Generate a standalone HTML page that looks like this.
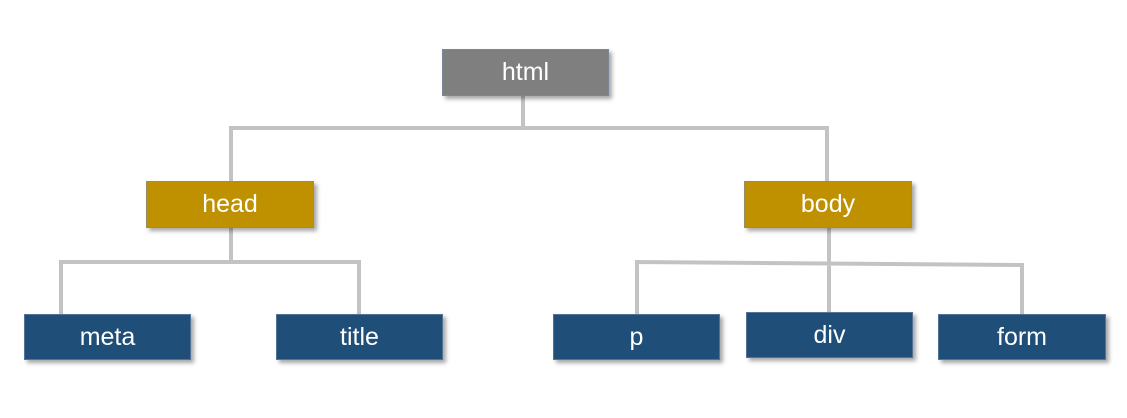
<!DOCTYPE html>
<html><head><style>
body{margin:0;background:#fff;width:1127px;height:418px;overflow:hidden;position:relative;font-family:"Liberation Sans",sans-serif}
.b{position:absolute;color:#fff;font-size:25px;display:flex;align-items:center;justify-content:center;box-shadow:3px 3px 4px rgba(0,0,0,.35);box-sizing:border-box;border:1px solid rgba(120,140,170,.6)}
.g{background:#7f7f7f}.y{background:#bf9000}.n{background:#1f4e79}
svg{position:absolute;left:0;top:0}
</style></head><body>
<svg width="1127" height="418"><g stroke="#c3c3c3" stroke-width="4" fill="none">
<path d="M523 96V128M231 181V128H827V181"/>
<path d="M231 228V262M61 314V262H359V314"/>
<path d="M829 228V312M637 314V262L1022 265V314"/>
</g></svg>
<div class="b g" style="left:442px;top:49px;width:167px;height:47px">html</div>
<div class="b y" style="left:146px;top:181px;width:168px;height:47px">head</div>
<div class="b y" style="left:744px;top:181px;width:168px;height:47px">body</div>
<div class="b n" style="left:24px;top:314px;width:167px;height:46px">meta</div>
<div class="b n" style="left:276px;top:314px;width:167px;height:46px">title</div>
<div class="b n" style="left:553px;top:314px;width:167px;height:46px">p</div>
<div class="b n" style="left:746px;top:312px;width:167px;height:46px">div</div>
<div class="b n" style="left:938px;top:314px;width:168px;height:46px">form</div>
</body></html>
